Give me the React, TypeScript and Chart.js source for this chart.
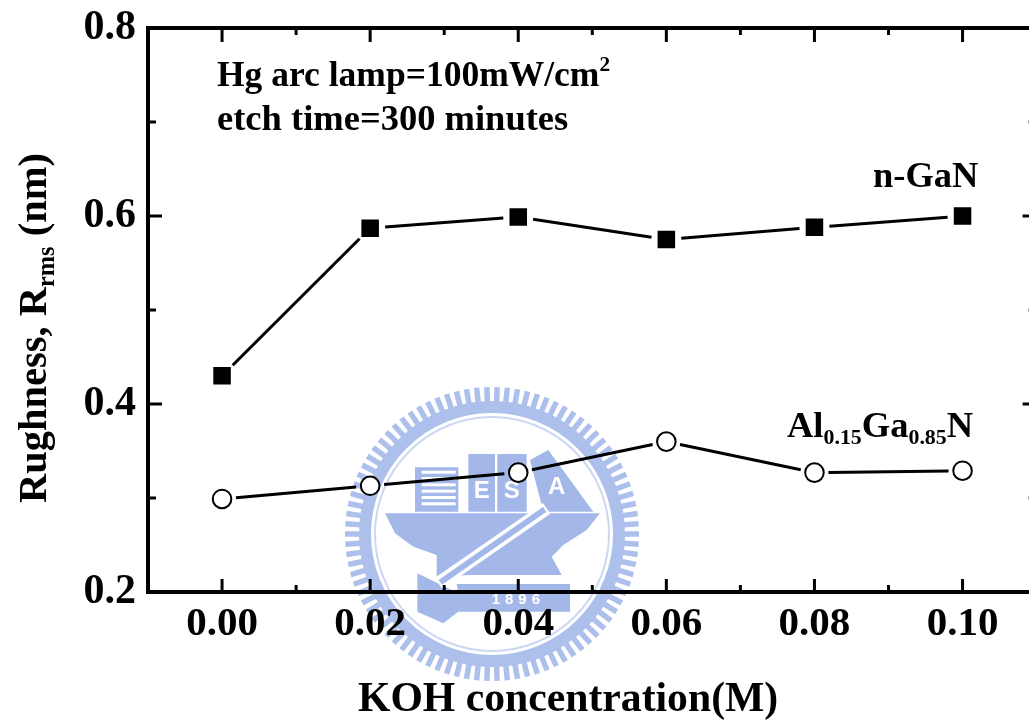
import React, { useEffect, useRef } from "react";
import { Chart, registerables } from "chart.js";

Chart.register(...registerables);

const koh = [0, 0.02, 0.04, 0.06, 0.08, 0.1];
const nGaN = [0.43, 0.587, 0.599, 0.575, 0.588, 0.6];
const alGaN = [0.299, 0.313, 0.327, 0.36, 0.327, 0.329];
const xMajor = [0, 0.02, 0.04, 0.06, 0.08, 0.1];
const xMinor = [0.01, 0.03, 0.05, 0.07, 0.09];
const yMajor = [0.2, 0.4, 0.6, 0.8];
const yMinor = [0.3, 0.5, 0.7];

const SERIF = '"Liberation Serif"';
type Run = { t: string; s?: "sub" | "sup" };

function runs(ctx: CanvasRenderingContext2D, list: Run[], x: number, y: number, size: number) {
  let cx = x;
  ctx.textAlign = "left";
  ctx.textBaseline = "alphabetic";
  for (const r of list) {
    const fs = r.s ? size * 0.6 : size;
    ctx.font = `bold ${fs}px ${SERIF}`;
    const dy = r.s === "sub" ? size * 0.2 : r.s === "sup" ? -size * 0.42 : 0;
    ctx.fillText(r.t, cx, y + dy);
    cx += ctx.measureText(r.t).width;
  }
}

function drawSeal(ctx: CanvasRenderingContext2D) {
  const cx = 492;
  const cy = 534;
  const blue = "#a3b8e8";
  // zoom-space helper: the seal artwork is laid out relative to its centre
  const P = (zx: number, zy: number): [number, number] => [cx + (zx - 486) / 3, cy + (zy - 462) / 3];
  const poly = (pts: number[][], fill = blue) => {
    ctx.fillStyle = fill;
    ctx.beginPath();
    pts.forEach(([a, b], i) => {
      const [x, y] = P(a, b);
      if (i) ctx.lineTo(x, y);
      else ctx.moveTo(x, y);
    });
    ctx.closePath();
    ctx.fill();
  };
  ctx.save();
  ctx.strokeStyle = "#adc0ec";
  ctx.lineWidth = 12;
  ctx.beginPath();
  ctx.arc(cx, cy, 127, 0, Math.PI * 2);
  ctx.stroke();
  ctx.lineWidth = 5.5;
  for (let i = 0; i < 90; i++) {
    const a = (i / 90) * Math.PI * 2;
    ctx.beginPath();
    ctx.moveTo(cx + Math.cos(a) * 132, cy + Math.sin(a) * 132);
    ctx.lineTo(cx + Math.cos(a) * 147, cy + Math.sin(a) * 147);
    ctx.stroke();
  }
  ctx.lineWidth = 2;
  ctx.strokeStyle = "#ccd8f3";
  ctx.beginPath();
  ctx.arc(cx, cy, 117, 0, Math.PI * 2);
  ctx.stroke();

  // books
  poly([[255, 262], [385, 262], [385, 395], [255, 395]]);
  ctx.fillStyle = "#ffffff";
  for (let i = 0; i < 6; i++) {
    const [x, y] = P(275, 272 + i * 19);
    ctx.fillRect(x, y, 34, 3);
  }
  poly([[415, 222], [495, 222], [495, 395], [415, 395]]);
  poly([[502, 222], [590, 222], [590, 395], [502, 395]]);
  poly([[600, 240], [655, 210], [790, 395], [640, 395]]);
  // anvil
  poly([
    [165, 400], [810, 400], [770, 450], [700, 495], [665, 530], [695, 585], [420, 585],
    [320, 590], [320, 525], [250, 500], [195, 460],
  ]);
  // hammer
  poly([[262, 580], [385, 640], [380, 612], [720, 612], [720, 695], [385, 695], [340, 730], [262, 695]]);
  // hammer handle outline
  const [hx1, hy1] = P(650, 385);
  const [hx2, hy2] = P(325, 610);
  ctx.strokeStyle = "#ffffff";
  ctx.lineWidth = 13;
  ctx.beginPath();
  ctx.moveTo(hx1, hy1);
  ctx.lineTo(hx2, hy2);
  ctx.stroke();
  ctx.strokeStyle = blue;
  ctx.lineWidth = 6;
  ctx.beginPath();
  ctx.moveTo(hx1 - 2, hy1 + 1);
  ctx.lineTo(hx2 + 2, hy2 - 1);
  ctx.stroke();

  ctx.fillStyle = "#ffffff";
  ctx.textAlign = "center";
  ctx.textBaseline = "middle";
  ctx.font = `bold 24px "Liberation Sans"`;
  const [ex, ey] = P(455, 335);
  ctx.fillText("E", ex, ey);
  const [sx, sy] = P(545, 335);
  ctx.fillText("S", sx, sy);
  const [ax, ay] = P(680, 322);
  ctx.fillText("A", ax, ay);
  ctx.font = `bold 15px "Liberation Sans"`;
  (ctx as any).letterSpacing = "5px";
  const [nx, ny] = P(565, 660);
  ctx.fillText("1896", nx, ny);
  ctx.restore();
}

const gapSegment = (gap: number) => ({
  borderDash: (c: any) => {
    const len = Math.hypot(c.p1.x - c.p0.x, c.p1.y - c.p0.y);
    return [0, gap, Math.max(len - 2 * gap, 0), gap + 20];
  },
});

const artwork = {
  id: "artwork",
  beforeDraw(chart: any) {
    drawSeal(chart.ctx);
  },
  afterDraw(chart: any) {
    const { ctx, scales } = chart;
    const { x, y } = scales;
    const { left, right, top, bottom } = chart.chartArea;
    ctx.save();
    ctx.strokeStyle = "#000";
    ctx.lineWidth = 3;
    const tick = (x1: number, y1: number, x2: number, y2: number) => {
      ctx.beginPath();
      ctx.moveTo(x1, y1);
      ctx.lineTo(x2, y2);
      ctx.stroke();
    };
    for (const v of xMajor) {
      const p = x.getPixelForValue(v);
      tick(p, bottom, p, bottom - 13);
      tick(p, top, p, top + 14);
    }
    for (const v of xMinor) {
      const p = x.getPixelForValue(v);
      tick(p, bottom, p, bottom - 7);
      tick(p, top, p, top + 7);
    }
    for (const v of yMajor) {
      const p = y.getPixelForValue(v);
      tick(left, p, left + 14, p);
      tick(right, p, right - 14, p);
    }
    for (const v of yMinor) {
      const p = y.getPixelForValue(v);
      tick(left, p, left + 8, p);
      tick(right, p, right - 8, p);
    }
    ctx.fillStyle = "#000";
    runs(ctx, [{ t: "Hg arc lamp=100mW/cm" }, { t: "2", s: "sup" }], 217, 86, 35.5);
    runs(ctx, [{ t: "etch time=300 minutes" }], 217, 130, 36.5);
    runs(ctx, [{ t: "n-GaN" }], 873, 187, 36.5);
    runs(ctx, [{ t: "Al" }, { t: "0.15", s: "sub" }, { t: "Ga" }, { t: "0.85", s: "sub" }, { t: "N" }], 787, 437, 36.5);
    runs(ctx, [{ t: "KOH concentration(M)" }], 358, 711, 41.7);
    ctx.translate(46, 503);
    ctx.rotate(-Math.PI / 2);
    runs(ctx, [{ t: "Rughness, R" }, { t: "rms", s: "sub" }, { t: " (nm)" }], 0, 0, 40.5);
    ctx.restore();
  },
};

export default function App() {
  const ref = useRef<HTMLCanvasElement>(null);
  useEffect(() => {
    const setTicks = (vals: number[]) => (s: any) => {
      s.ticks = vals.map((value) => ({ value }));
    };
    const sized = (prop: "width" | "height", n: number) => (s: any) => {
      s[prop] = n;
      s.paddingTop = 0;
      s.paddingBottom = 0;
      s.paddingLeft = 0;
      s.paddingRight = 0;
    };
    const border = { display: true, color: "#000", width: 4 };
    const grid = { drawOnChartArea: false, drawTicks: false };
    const chart = new Chart(ref.current!, {
      type: "line",
      data: {
        labels: koh,
        datasets: [
          {
            label: "n-GaN",
            data: nGaN,
            borderColor: "#000",
            backgroundColor: "#000",
            borderWidth: 3,
            pointStyle: "rect",
            pointRadius: 12.4,
            pointBorderWidth: 0,
            segment: gapSegment(15),
          },
          {
            label: "Al0.15Ga0.85N",
            data: alGaN,
            borderColor: "#000",
            backgroundColor: "#fff",
            borderWidth: 3,
            pointStyle: "circle",
            pointRadius: 9.3,
            pointBorderWidth: 2,
            segment: gapSegment(14),
          },
        ].map((d, i) => ({ ...d, data: koh.map((k, j) => ({ x: k, y: (i ? alGaN : nGaN)[j] })) })) as any,
      },
      options: {
        responsive: false,
        animation: false,
        layout: { padding: { top: 28, right: 4, left: 0, bottom: 0 } },
        plugins: { legend: { display: false }, tooltip: { enabled: false } },
        scales: {
          x: {
            type: "linear",
            position: "bottom",
            min: -0.01,
            max: 0.11,
            border,
            grid,
            afterBuildTicks: setTicks(xMajor),
            afterFit: sized("height", 128),
            ticks: {
              color: "#000",
              padding: 8,
              maxRotation: 0,
              autoSkip: false,
              font: { family: SERIF, size: 41, weight: "bold" },
              callback: (v: any) => Number(v).toFixed(2),
            },
          },
          y: {
            type: "linear",
            position: "left",
            min: 0.2,
            max: 0.8,
            border,
            grid,
            afterBuildTicks: setTicks(yMajor),
            afterFit: sized("width", 148),
            ticks: {
              color: "#000",
              padding: 12,
              autoSkip: false,
              font: { family: SERIF, size: 42, weight: "bold" },
              callback: (v: any) => Number(v).toFixed(1),
            },
          },
          x2: {
            type: "linear",
            position: "top",
            min: -0.01,
            max: 0.11,
            border,
            grid,
            ticks: { display: false },
            afterFit: sized("height", 0),
          },
          y2: {
            type: "linear",
            position: "right",
            min: 0.2,
            max: 0.8,
            border,
            grid,
            ticks: { display: false },
            afterFit: sized("width", 0),
          },
        },
      },
      plugins: [artwork],
    } as any);
    return () => chart.destroy();
  }, []);
  return (
    <div style={{ position: "absolute", left: 0, top: 0, width: 1029, height: 720, overflow: "hidden", background: "#fff" }}>
      <canvas ref={ref} width={1049} height={720} style={{ display: "block" }} />
    </div>
  );
}
